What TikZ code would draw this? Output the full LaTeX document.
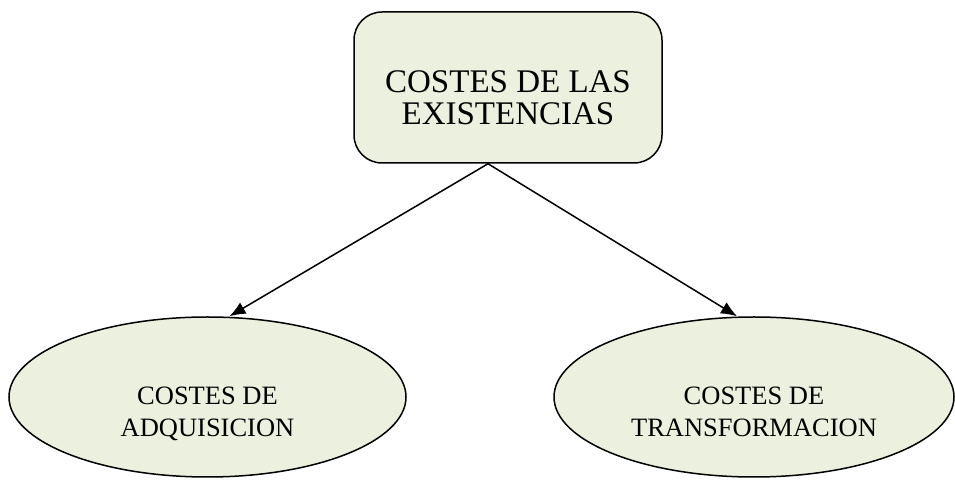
\documentclass[tikz,border=0pt]{standalone}
\usepackage{fontspec}
\setmainfont{Liberation Serif}
\usetikzlibrary{shapes, arrows.meta, positioning}
\definecolor{olivelight}{RGB}{235,241,222}
\tikzstyle{block} = [draw, fill=olivelight, line width=1.5pt, align=center]
\newcommand{\bigtxt}{\fontsize{33}{32}\selectfont}
\newcommand{\midtxt}{\fontsize{26.5}{32}\selectfont}

\begin{document}
\begin{tikzpicture}[x=1pt,y=1pt,>={Latex[length=16pt,width=13pt]}]
    \useasboundingbox (0,0) rectangle (955,481);
    \node [block, rectangle, rounded corners=28pt, minimum width=308pt, minimum height=151pt, font=\bigtxt, text height=75pt, text depth=0pt] (existencias) at (508,393.5) {COSTES DE LAS\\EXISTENCIAS};
    \node [block, shape=ellipse, inner sep=0pt, minimum width=397pt, minimum height=160pt, font=\midtxt, text height=80pt, text depth=0pt] (adquisicion) at (207.5,84) {COSTES DE\\ADQUISICION};
    \node [block, shape=ellipse, inner sep=0pt, minimum width=400pt, minimum height=160pt, font=\midtxt, text height=80pt, text depth=0pt] (transformacion) at (754,84) {COSTES DE\\TRANSFORMACION};
    \draw [->, line width=1.5pt] ([xshift=-20pt]existencias.south) -- ([xshift=22pt]adquisicion.north);
    \draw [->, line width=1.5pt] ([xshift=-20pt]existencias.south) -- ([xshift=-17pt]transformacion.north);
\end{tikzpicture}
\end{document}
